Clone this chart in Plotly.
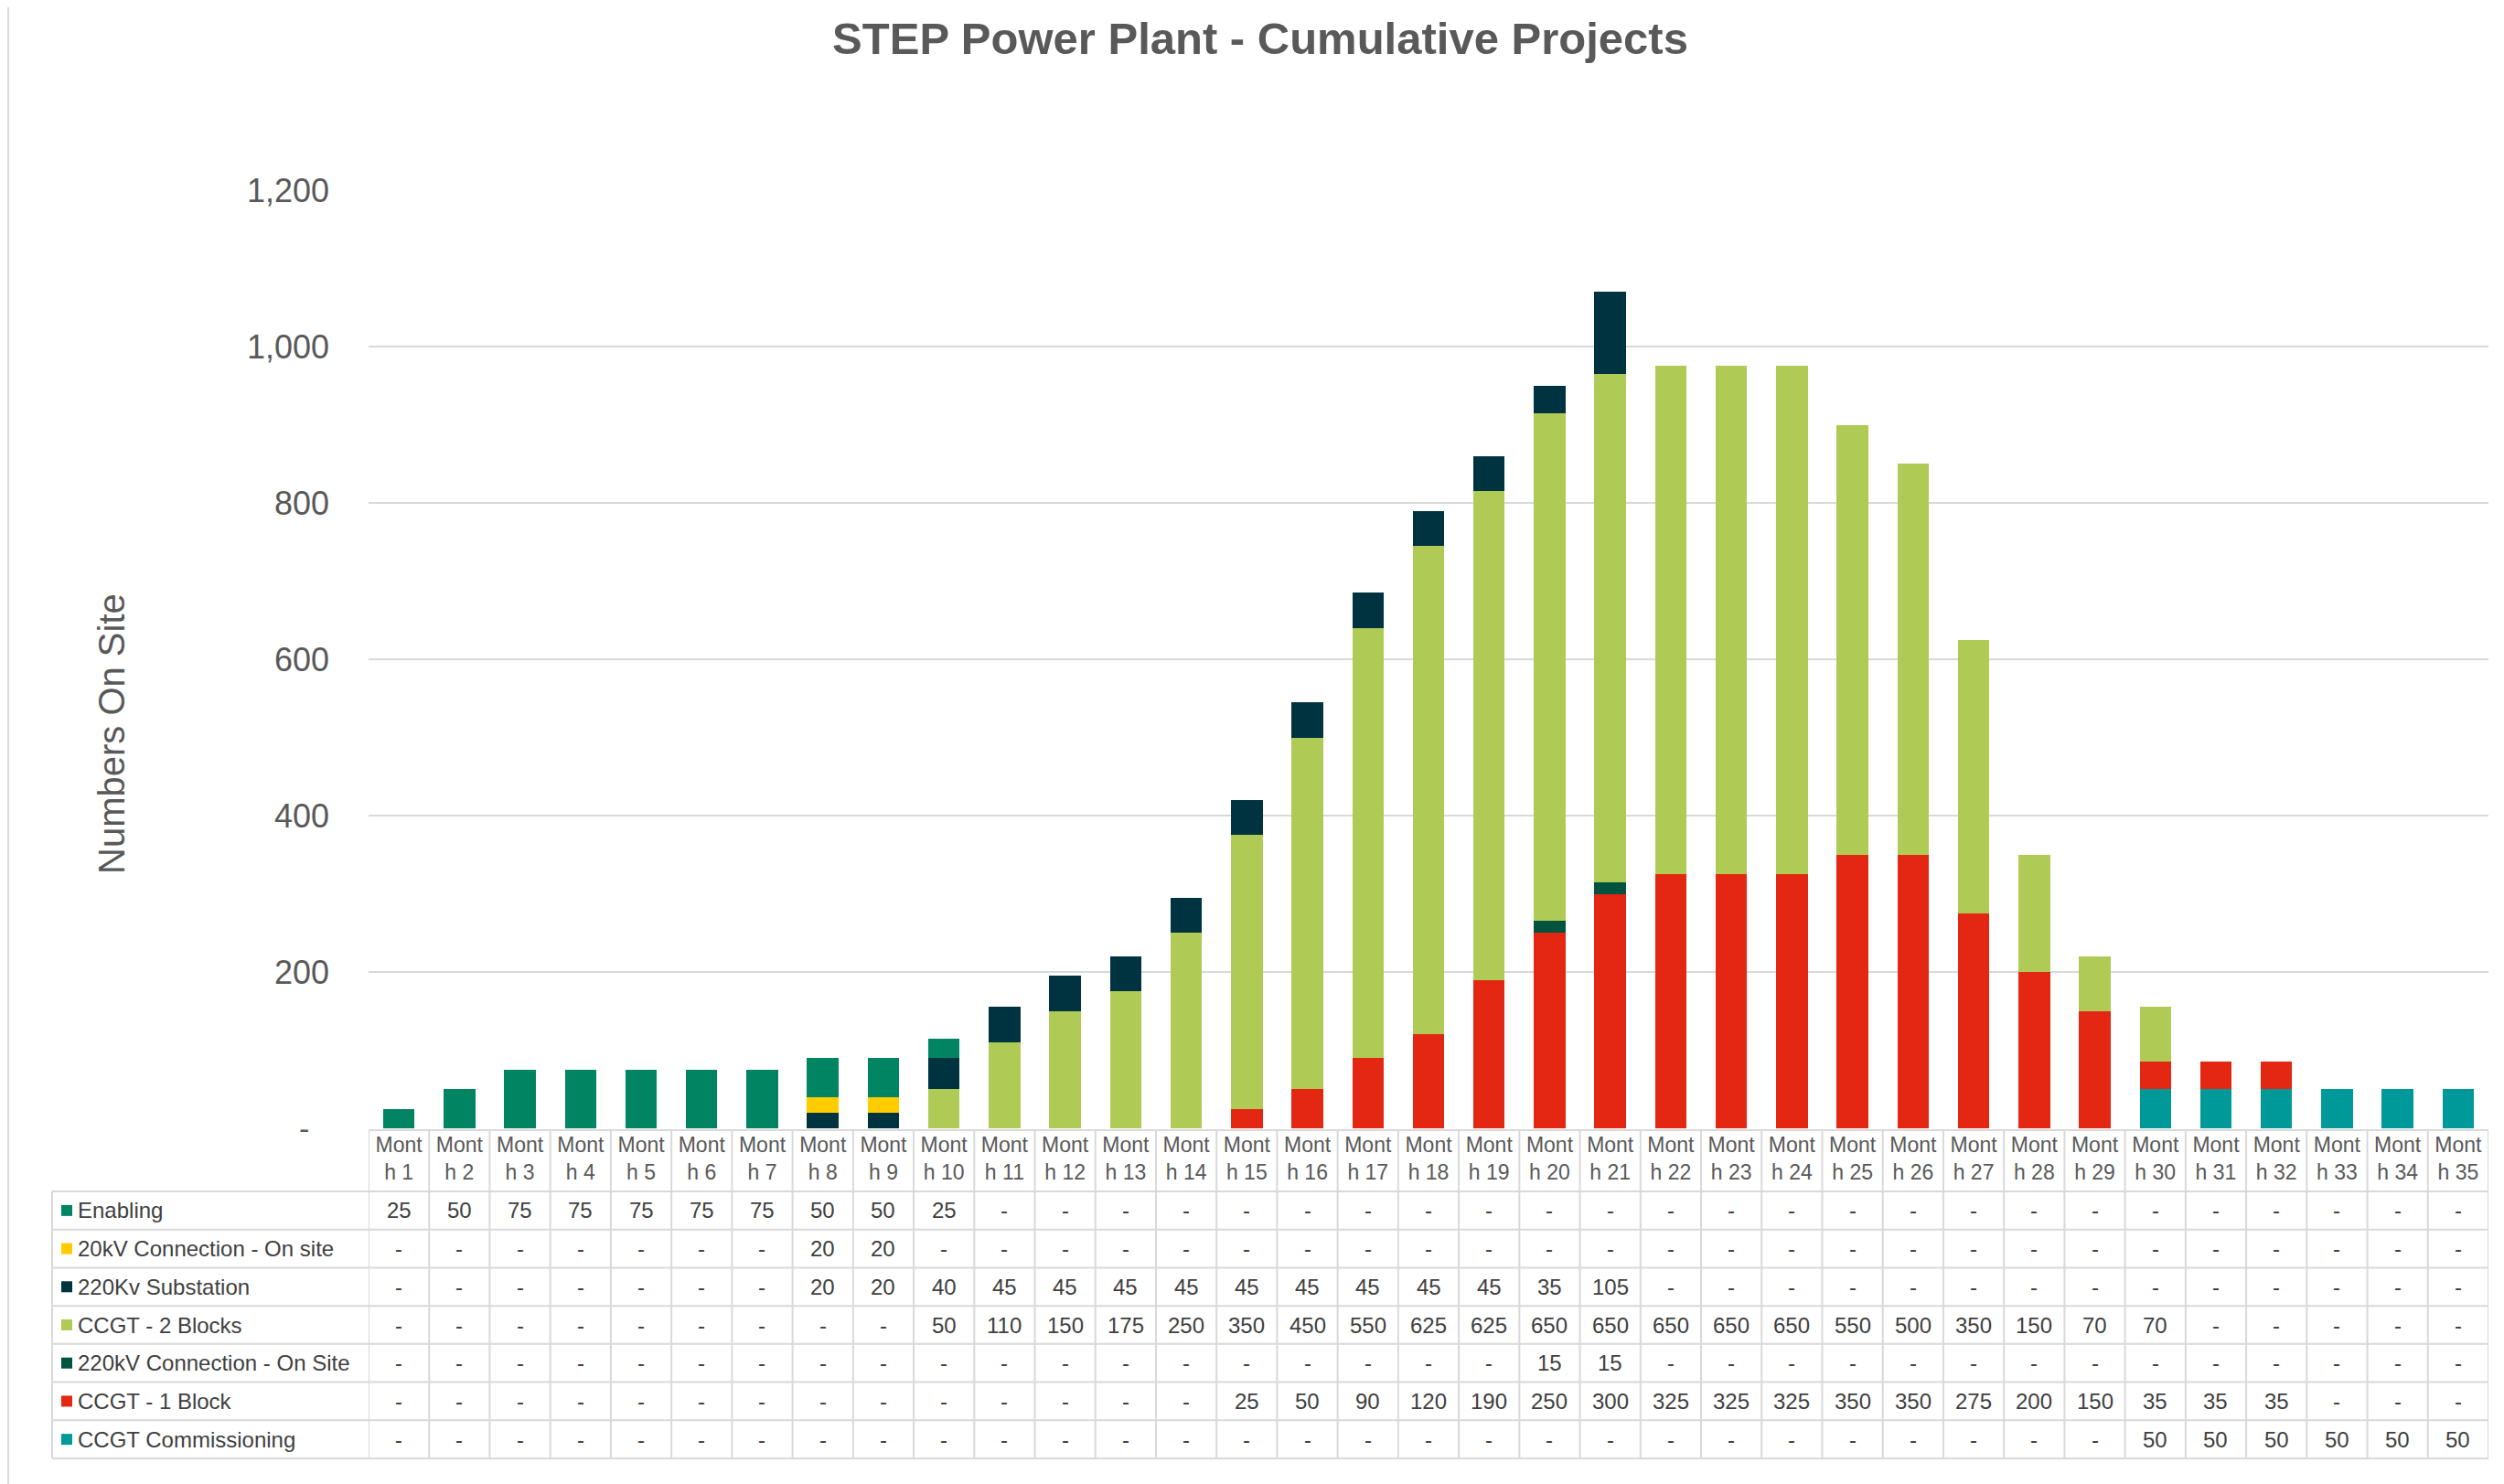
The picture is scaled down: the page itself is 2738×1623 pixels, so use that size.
import plotly.graph_objects as go

# ---------------- data ----------------
months = [f"Month {i}" for i in range(1, 36)]
tick_labels = [f"Mont<br>h {i}" for i in range(1, 36)]

series_names = [
    "Enabling",
    "20kV Connection - On site",
    "220Kv Substation",
    "CCGT - 2 Blocks",
    "220kV Connection - On Site",
    "CCGT - 1 Block",
    "CCGT Commissioning",
]

enabling = [25, 50, 75, 75, 75, 75, 75, 50, 50, 25] + [0] * 25
kv20_connection = [0] * 7 + [20, 20] + [0] * 26
kv220_substation = [0] * 7 + [20, 20, 40, 45, 45, 45, 45, 45, 45, 45, 45, 45, 35, 105] + [0] * 14
ccgt_2_blocks = [0] * 9 + [50, 110, 150, 175, 250, 350, 450, 550, 625, 625, 650, 650,
                           650, 650, 650, 550, 500, 350, 150, 70, 70] + [0] * 5
kv220_connection = [0] * 19 + [15, 15] + [0] * 14
ccgt_1_block = [0] * 14 + [25, 50, 90, 120, 190, 250, 300, 325, 325, 325, 350, 350,
                           275, 200, 150, 35, 35, 35] + [0] * 3
ccgt_commissioning = [0] * 29 + [50, 50, 50, 50, 50, 50]

series_values = [enabling, kv20_connection, kv220_substation, ccgt_2_blocks,
                 kv220_connection, ccgt_1_block, ccgt_commissioning]
series_colors = ["#008462", "#FFCC00", "#003340", "#AFCB55", "#00543F", "#E42713", "#009999"]

y_ticks = [200, 400, 600, 800, 1000, 1200]

# ---------------- layout geometry (page pixels) ----------------
PAGE_W, PAGE_H = 2738, 1623
OFF = 8  # default body margin of the html page
W, H = PAGE_W - OFF, PAGE_H - OFF
L, R, T, B = 403, 2721, 208, 1234   # plot area in page pixels
FONT = "Liberation Sans, Arial, sans-serif"
GREY = "#595959"
TXT = "#404040"
LINE = "#D9D9D9"


def xp(px):
    return (px - L) / (R - L)


def yp(py):
    return (B - py) / (B - T)


fig = go.Figure()

# Excel draws the last table row at the bottom of the stack
for name, vals, col in reversed(list(zip(series_names, series_values, series_colors))):
    fig.add_trace(go.Bar(
        x=months, y=vals, name=name,
        marker=dict(color=col, line=dict(width=0)),
        showlegend=False,
    ))

shapes = []
annotations = []

hdr_top, hdr_bot = 1236, 1303
row_h = (1595 - 1303) / 7
n = len(months)

for i in range(n + 1):
    shapes.append(dict(type="line", xref="x", yref="paper",
                       x0=i - 0.5, x1=i - 0.5, y0=yp(hdr_top), y1=yp(1595),
                       line=dict(color=LINE, width=2)))
shapes.append(dict(type="line", xref="paper", yref="paper",
                   x0=xp(57), x1=xp(57), y0=yp(hdr_bot), y1=yp(1595),
                   line=dict(color=LINE, width=2)))
shapes.append(dict(type="line", xref="paper", yref="paper",
                   x0=0, x1=1, y0=yp(hdr_top), y1=yp(hdr_top),
                   line=dict(color=LINE, width=2)))
for k in range(8):
    yy = hdr_bot + k * row_h
    shapes.append(dict(type="line", xref="paper", yref="paper",
                       x0=xp(57), x1=1, y0=yp(yy), y1=yp(yy),
                       line=dict(color=LINE, width=2)))

for r, (name, vals, col) in enumerate(zip(series_names, series_values, series_colors)):
    yc = hdr_bot + (r + 0.5) * row_h
    shapes.append(dict(type="rect", xref="paper", yref="paper",
                       x0=xp(67), x1=xp(79), y0=yp(yc + 6), y1=yp(yc - 6),
                       fillcolor=col, line=dict(width=0)))
    annotations.append(dict(xref="paper", yref="paper", x=xp(83), y=yp(yc),
                            text=name, showarrow=False, xanchor="left", yanchor="middle",
                            font=dict(family=FONT, size=24, color=TXT)))
    for i, v in enumerate(vals):
        annotations.append(dict(xref="x", yref="paper", x=i, y=yp(yc),
                                text=str(v) if v else "-", showarrow=False,
                                xanchor="center", yanchor="middle",
                                font=dict(family=FONT, size=24, color=TXT)))

annotations.append(dict(xref="paper", yref="y", x=xp(340), y=0, text="-",
                        showarrow=False, xanchor="right", yanchor="middle",
                        font=dict(family=FONT, size=34, color=GREY)))

annotations.append(dict(xref="paper", yref="paper", x=xp(122), y=yp(803),
                        text="Numbers On Site", textangle=-90, showarrow=False,
                        xanchor="center", yanchor="middle",
                        font=dict(family=FONT, size=40, color=GREY)))

shapes.append(dict(type="rect", xref="paper", yref="paper",
                   x0=xp(9), x1=xp(2734), y0=yp(1640), y1=yp(5),
                   line=dict(color="#D9D9D9", width=2), fillcolor="rgba(0,0,0,0)",
                   layer="below"))

fig.update_layout(
    width=W, height=H,
    margin=dict(l=L - OFF, r=PAGE_W - R, t=T - OFF, b=PAGE_H - B),
    paper_bgcolor="white", plot_bgcolor="white",
    barmode="stack", bargap=0.48,
    title=dict(text="<b>STEP Power Plant - Cumulative Projects</b>",
               x=(1378 - OFF) / W, xanchor="center", y=1 - (42 - OFF) / H, yanchor="middle",
               font=dict(family=FONT, size=49, color=GREY)),
    xaxis=dict(
        type="category", categoryorder="array", categoryarray=months,
        tickmode="array", tickvals=months, ticktext=tick_labels,
        range=[-0.5, n - 0.5], showgrid=False, showline=False, zeroline=False,
        ticks="", tickfont=dict(family=FONT, size=23, color=GREY),
        ticklabelstandoff=2,
    ),
    yaxis=dict(
        range=[0, 1200], tickmode="array", tickvals=y_ticks,
        ticktext=[f"{v:,}" for v in y_ticks],
        showgrid=True, gridcolor=LINE, gridwidth=2,
        zeroline=False, showline=False, ticks="",
        tickfont=dict(family=FONT, size=36, color=GREY),
        ticklabelstandoff=42,
    ),
    shapes=shapes,
    annotations=annotations,
    font=dict(family=FONT),
)

fig.write_html("out.html")
